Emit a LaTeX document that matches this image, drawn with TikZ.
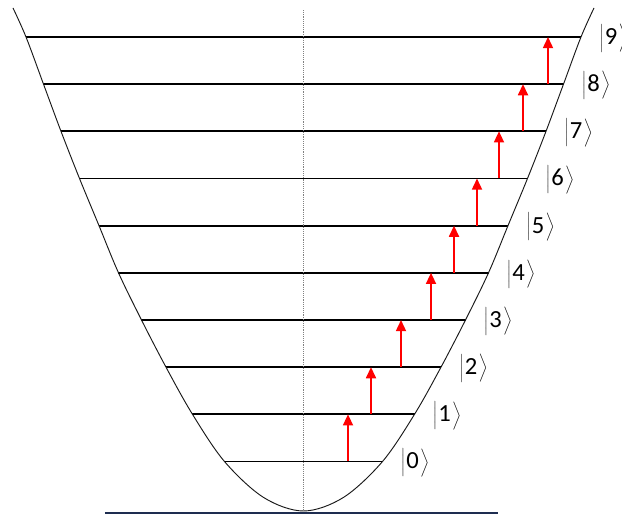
\documentclass[tikz,border=0pt]{standalone}
\usepackage{fontspec}
\newfontfamily\ketfont{Carlito}
\usetikzlibrary{arrows.meta}
\definecolor{groundline}{RGB}{30,45,80}
\newcommand{\levelket}[1]{$\left|\rule[-0.34em]{0pt}{1.2em}\right.$#1$\left.\rule[-0.34em]{0pt}{1.2em}\right\rangle$}

\begin{document}
\begin{tikzpicture}[
  x=0.03cm,y=0.03cm,
  level/.style={line width=1.6pt, draw=black},
  well/.style={line width=0.8pt, draw=black!90},
  jump/.style={-{Triangle[width=8.5pt,length=9.5pt]}, line width=1.6pt, draw=red},
  ket/.style={anchor=west, inner sep=0pt, font=\ketfont\fontsize{21}{23}\selectfont}
]
\useasboundingbox (-303.5,-5) rectangle (318.5,511);
% energy levels with their kets
\foreach \n/\w in {0/79,1/111,2/137.5,3/162,4/185,5/204.5,6/224,7/242.5,8/260,9/277.5}{
  \coordinate (L\n) at (-\w,49.5+47.17*\n);
  \coordinate (R\n) at (\w,49.5+47.17*\n);
  \draw[level] (L\n) -- (R\n);
  \node[ket] (k\n) at ([xshift=0.55cm,yshift=-0.03cm]R\n) {\levelket{\n}};
}
% potential well
\coordinate (wl) at (-290.5,503);
\coordinate (wr) at (290.5,503);
\coordinate (v) at (0,0);
\draw[well] plot[smooth, tension=0.55] coordinates {(wl) (L9) (L8) (L7) (L6) (L5) (L4) (L3) (L2) (L1) (L0) (-40,13.6) (v) (40,13.6) (R0) (R1) (R2) (R3) (R4) (R5) (R6) (R7) (R8) (R9) (wr)};
% axis and ground
\coordinate (axtop) at (0,501);
\coordinate (axbot) at (0,-2);
\draw[densely dotted, gray, line width=0.6pt] (axbot) -- (axtop);
\coordinate (gl) at (-198.5,-2);
\coordinate (gr) at (194.5,-2);
\draw[groundline, line width=1.1pt] (gl) -- (gr);
% transitions
\foreach \n/\x in {0/44.5,1/67.5,2/97.5,3/127.5,4/150.5,5/173.5,6/195.5,7/219.5,8/244.5}{
  \pgfmathtruncatemacro\m{\n+1}
  \draw[jump] (\x,0 |- R\n) -- (\x,0 |- R\m);
}
\end{tikzpicture}
\end{document}
